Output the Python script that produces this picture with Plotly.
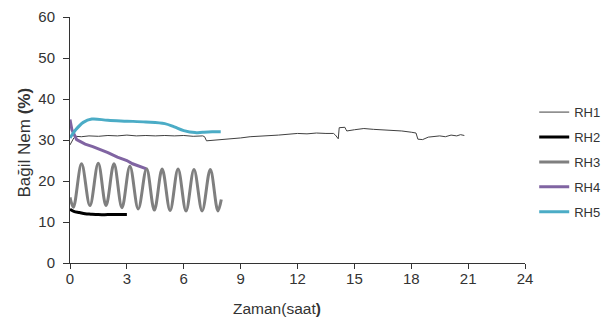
import plotly.graph_objects as go

# RH1 (thin dark gray, long run)
rh1_t = [0.0, 0.1, 0.2, 0.3, 0.6, 1.0, 1.5, 2.0, 2.5, 3.0, 3.5, 4.0, 4.5, 5.0, 5.5, 6.0, 6.5, 7.0, 7.1, 7.2,
         7.5, 8.0, 8.5, 9.0, 9.5, 10.0, 10.5, 11.0, 11.5, 12.0, 12.5, 13.0, 13.5, 13.9, 14.0, 14.1, 14.15,
         14.2, 14.5, 14.55, 14.6, 15.0, 15.5, 16.0, 16.5, 17.0, 17.5, 18.0, 18.25, 18.35, 18.6, 18.9, 19.2,
         19.5, 19.8, 20.1, 20.4, 20.6, 20.8]
rh1_v = [28.8, 29.8, 30.5, 30.9, 30.8, 31.0, 30.9, 31.1, 31.0, 31.2, 31.0, 31.1, 31.0, 31.1, 31.0, 31.1, 30.9, 31.0, 30.8, 29.8,
         29.9, 30.0, 30.3, 30.5, 30.8, 30.9, 31.1, 31.2, 31.4, 31.6, 31.5, 31.7, 31.6, 31.6, 31.2, 30.6, 30.3,
         33.0, 33.1, 32.6, 32.2, 32.5, 32.8, 32.6, 32.5, 32.3, 32.2, 31.9, 31.7, 30.2, 30.1, 30.7, 30.9,
         31.0, 30.8, 31.2, 31.0, 31.3, 31.1]

# RH2 (black)
rh2_t = [0.0, 0.2, 0.5, 0.8, 1.1, 1.5, 2.0, 2.5, 3.0]
rh2_v = [13.1, 12.6, 12.3, 12.0, 11.9, 11.8, 11.8, 11.8, 11.8]

# RH3 (gray oscillation) - peaks and troughs
rh3_t = [0.0, 0.18, 0.61, 1.05, 1.49, 1.9, 2.32, 2.74, 3.16, 3.6, 4.04, 4.45, 4.86, 5.28, 5.7, 6.12, 6.54, 6.97, 7.4, 7.8, 7.98]
rh3_v = [16.0, 13.6, 24.2, 14.0, 24.3, 14.0, 24.2, 13.5, 23.6, 13.2, 23.0, 12.9, 22.9, 12.8, 22.9, 12.7, 22.8, 12.7, 22.8, 12.7, 15.5]

# RH4 (purple)
rh4_t = [0.0, 0.1, 0.35, 0.8, 1.2, 1.6, 2.0, 2.5, 3.0, 3.3, 3.7, 4.0]
rh4_v = [35.0, 32.5, 30.1, 29.0, 28.4, 27.7, 26.9, 25.8, 25.0, 24.2, 23.6, 23.0]

# RH5 (teal)
rh5_t = [0.0, 0.3, 0.7, 1.15, 2.0, 3.0, 4.0, 5.0, 5.5, 6.0, 6.6, 7.0, 7.5, 7.95]
rh5_v = [30.5, 32.5, 34.3, 35.1, 34.8, 34.6, 34.4, 34.0, 33.2, 32.3, 31.8, 31.9, 32.0, 32.0]

x_ticks = [0, 3, 6, 9, 12, 15, 18, 21, 24]
y_ticks = [0, 10, 20, 30, 40, 50, 60]

series = [
    ("RH1", rh1_t, rh1_v, "#404040", 1, "linear"),
    ("RH2", rh2_t, rh2_v, "#000000", 3, "spline"),
    ("RH3", rh3_t, rh3_v, "#7f7f7f", 3, "spline"),
    ("RH4", rh4_t, rh4_v, "#8064a2", 3, "linear"),
    ("RH5", rh5_t, rh5_v, "#4bacc6", 3, "spline"),
]

fig = go.Figure()
for name, t, v, c, w, shape in series:
    fig.add_trace(go.Scatter(x=t, y=v, mode="lines", name=name, legendgroup=name,
                             line=dict(color=c, width=w, shape=shape)))

font = "Liberation Sans, Arial, sans-serif"
fig.update_layout(
    width=606, height=316,
    margin=dict(l=62, r=88, t=9, b=61),
    plot_bgcolor="white", paper_bgcolor="white",
    font=dict(family=font, size=15, color="#333333"),
    showlegend=True,
    legend=dict(x=1.018, y=0.41, xanchor="left", yanchor="middle", font=dict(size=13, color="#333333"),
                tracegroupgap=5, itemwidth=30, bgcolor="rgba(0,0,0,0)"),
    xaxis=dict(range=[0, 24], tickvals=x_ticks, showgrid=False, zeroline=False, automargin=False,
               showline=True, linecolor="#333333", linewidth=1, ticks="outside", ticklen=5, tickcolor="#333333",
               ticklabelstandoff=-3, ticklabeloverflow="allow"),
    yaxis=dict(range=[0, 60], tickvals=y_ticks, showgrid=False, zeroline=False, automargin=False,
               showline=True, linecolor="#333333", linewidth=1, ticks="outside", ticklen=6, tickcolor="#333333",
               ticklabelstandoff=5, ticklabeloverflow="allow"),
    annotations=[
        dict(text="Zaman(saat<b>)</b>", xref="paper", yref="paper", x=0.456, y=-0.185,
             xanchor="center", yanchor="middle", showarrow=False, font=dict(size=15.5, color="#333333")),
        dict(text="Bağil Nem <b>(%)</b>", xref="paper", yref="paper", x=-0.101, y=0.49, textangle=-90,
             xanchor="center", yanchor="middle", showarrow=False, font=dict(size=17, color="#333333")),
    ],
)
fig.write_html("out.html")
